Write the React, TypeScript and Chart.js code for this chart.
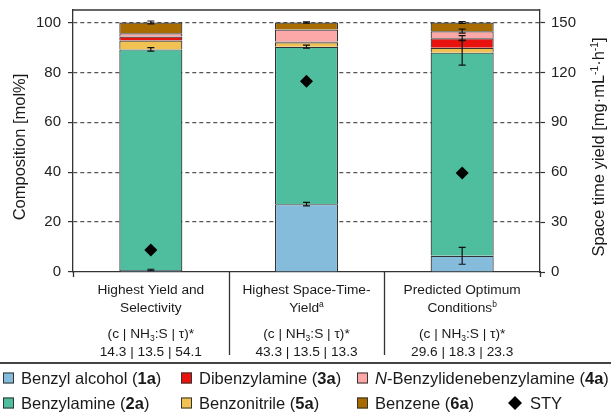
import { useEffect, useRef } from 'react';
import { Chart, registerables } from 'chart.js';

Chart.register(...registerables);

// ---------- data ----------
const categoryLines = [
  [[{ t: 'Highest Yield and' }], [{ t: 'Selectivity' }]],
  [[{ t: 'Highest Space-Time-' }], [{ t: 'Yield' }, { t: 'a', sup: true }]],
  [[{ t: 'Predicted Optimum' }], [{ t: 'Conditions' }, { t: 'b', sup: true }]],
];
const categories = ['Highest Yield and Selectivity', 'Highest Space-Time-Yield', 'Predicted Optimum Conditions'];
const conditions = ['14.3 | 13.5 | 54.1', '43.3 | 13.5 | 13.3', '29.6 | 18.3 | 23.3'];

const seriesNames = ['Benzyl alcohol', 'Benzylamine', 'Benzonitrile', 'Dibenzylamine', 'N-Benzylidenebenzylamine', 'Benzene'];
const seriesCodes = ['1a', '2a', '5a', '3a', '4a', '6a'];
const seriesColors = ['#85bcdb', '#4ebe9e', '#f1c152', '#e8130f', '#fca8a8', '#a86b00'];

const benzylAlcohol = [0.8, 27.2, 6.5];
const benzylamine = [88.4, 63.1, 81.4];
const benzonitrile = [3.6, 1.8, 2.0];
const dibenzylamine = [1.6, 0.3, 3.8];
const benzylidene = [1.3, 4.8, 2.8];
const benzene = [4.3, 2.8, 3.5];

const errBenzylAlcohol = [0.3, 0.7, 3.4];
const errBenzylamine = [0.7, 0.6, 5.0];
const errBenzonitrile = [0, 0, 0];
const errDibenzylamine = [0, 0, 1.0];
const errBenzylidene = [0, 0, 0.8];
const errBenzene = [0.6, 0.3, 0.4];

const sty = [13.2, 114.6, 59.5];

const leftTicksMax = 100;
const rightTicksMax = 150;

const seriesValues = [benzylAlcohol, benzylamine, benzonitrile, dibenzylamine, benzylidene, benzene];
const seriesErrors = [errBenzylAlcohol, errBenzylamine, errBenzonitrile, errDibenzylamine, errBenzylidene, errBenzene];

// ---------- text helpers ----------
type Run = { t: string; b?: boolean; i?: boolean; sup?: boolean; sub?: boolean };
const FAMILY = '"Liberation Sans", Arial, Helvetica, sans-serif';

function runFont(r: Run, size: number) {
  const s = r.sup || r.sub ? size * 0.62 : size;
  return `${r.i ? 'italic ' : ''}${r.b ? 'bold ' : ''}${s}px ${FAMILY}`;
}
function measureRuns(ctx: CanvasRenderingContext2D, runs: Run[], size: number) {
  let w = 0;
  for (const r of runs) {
    ctx.font = runFont(r, size);
    w += ctx.measureText(r.t).width;
  }
  return w;
}
function drawRuns(ctx: CanvasRenderingContext2D, runs: Run[], x: number, yMid: number, size: number, align: 'left' | 'center') {
  const w = measureRuns(ctx, runs, size);
  let cx = align === 'center' ? x - w / 2 : x;
  const base = yMid + size * 0.36;
  ctx.textAlign = 'left';
  ctx.textBaseline = 'alphabetic';
  for (const r of runs) {
    ctx.font = runFont(r, size);
    const dy = r.sup ? -size * 0.38 : r.sub ? size * 0.2 : 0;
    ctx.fillText(r.t, cx, base + dy);
    cx += ctx.measureText(r.t).width;
  }
}

const legendItems: { runs: Run[]; color: string | null; x: number; y: number }[] = [
  { runs: [{ t: 'Benzyl alcohol (' }, { t: '1a', b: true }, { t: ')' }], color: seriesColors[0], x: 3, y: 378 },
  { runs: [{ t: 'Dibenzylamine (' }, { t: '3a', b: true }, { t: ')' }], color: seriesColors[3], x: 181, y: 378 },
  { runs: [{ t: 'N', i: true }, { t: '-Benzylidenebenzylamine (' }, { t: '4a', b: true }, { t: ')' }], color: seriesColors[4], x: 357, y: 378 },
  { runs: [{ t: 'Benzylamine (' }, { t: '2a', b: true }, { t: ')' }], color: seriesColors[1], x: 3, y: 403 },
  { runs: [{ t: 'Benzonitrile (' }, { t: '5a', b: true }, { t: ')' }], color: seriesColors[2], x: 181, y: 403 },
  { runs: [{ t: 'Benzene (' }, { t: '6a', b: true }, { t: ')' }], color: seriesColors[5], x: 357, y: 403 },
  { runs: [{ t: 'STY' }], color: null, x: 508, y: 403 },
];

const errorBarPlugin = {
  id: 'errorBars',
  afterDatasetsDraw(chart: any) {
    const ctx: CanvasRenderingContext2D = chart.ctx;
    const xs = chart.scales.x;
    const ys = chart.scales.y;
    ctx.save();
    ctx.strokeStyle = '#111';
    ctx.lineWidth = 1.2;
    for (let i = 0; i < categories.length; i++) {
      let cum = 0;
      const px = xs.getPixelForValue(i);
      for (let s = 0; s < seriesValues.length; s++) {
        cum += seriesValues[s][i];
        const e = seriesErrors[s][i];
        if (!e) continue;
        const yTop = ys.getPixelForValue(cum + e);
        const yBot = ys.getPixelForValue(cum - e);
        ctx.beginPath();
        ctx.moveTo(px, yTop);
        ctx.lineTo(px, yBot);
        ctx.moveTo(px - 3.5, yTop);
        ctx.lineTo(px + 3.5, yTop);
        ctx.moveTo(px - 3.5, yBot);
        ctx.lineTo(px + 3.5, yBot);
        ctx.stroke();
      }
    }
    ctx.restore();
  },
};

const decorPlugin = {
  id: 'decor',
  afterDraw(chart: any) {
    const ctx: CanvasRenderingContext2D = chart.ctx;
    const area = chart.chartArea;
    const xs = chart.scales.x;
    ctx.save();
    // top frame
    ctx.strokeStyle = '#333';
    ctx.lineWidth = 1.3;
    ctx.beginPath();
    ctx.moveTo(area.left, area.top);
    ctx.lineTo(area.right, area.top);
    ctx.stroke();
    // category separators and edge ticks
    const step = (area.right - area.left) / categories.length;
    ctx.beginPath();
    for (let k = 0; k <= categories.length; k++) {
      const x = Math.round(area.left + step * k) + 0.5;
      const len = k === 0 || k === categories.length ? 5 : 83;
      ctx.moveTo(x, area.bottom);
      ctx.lineTo(x, area.bottom + len);
    }
    ctx.stroke();

    // category labels
    ctx.fillStyle = '#1a1a1a';
    const fs = 13.7;
    for (let i = 0; i < categories.length; i++) {
      const cx = xs.getPixelForValue(i);
      const lines = categoryLines[i] as Run[][];
      drawRuns(ctx, lines[0], cx, 289, fs, 'center');
      drawRuns(ctx, lines[1], cx, 307, fs, 'center');
      drawRuns(ctx, [{ t: '(c | NH' }, { t: '3', sub: true }, { t: ':S | τ)*' }], cx, 333, fs, 'center');
      drawRuns(ctx, [{ t: conditions[i] }], cx, 351, fs, 'center');
    }

    // legend separator
    ctx.strokeStyle = '#444';
    ctx.lineWidth = 2;
    ctx.beginPath();
    ctx.moveTo(0, 363);
    ctx.lineTo(chart.width, 363);
    ctx.stroke();

    // legend
    const lfs = 16.5;
    for (const it of legendItems) {
      if (it.color) {
        ctx.fillStyle = it.color;
        ctx.fillRect(it.x, it.y - 5.5, 11, 11);
        ctx.strokeStyle = '#333';
        ctx.lineWidth = 1;
        ctx.strokeRect(it.x + 0.5, it.y - 5.5 + 0.5, 10, 10);
        ctx.fillStyle = '#1a1a1a';
        drawRuns(ctx, it.runs, it.x + 18, it.y, lfs, 'left');
      } else {
        ctx.fillStyle = '#000';
        ctx.beginPath();
        ctx.moveTo(it.x + 7, it.y - 7);
        ctx.lineTo(it.x + 14, it.y);
        ctx.lineTo(it.x + 7, it.y + 7);
        ctx.lineTo(it.x, it.y);
        ctx.closePath();
        ctx.fill();
        ctx.fillStyle = '#1a1a1a';
        drawRuns(ctx, it.runs, it.x + 22, it.y, lfs, 'left');
      }
    }

    // axis titles
    const tfs = 16.5;
    ctx.fillStyle = '#1a1a1a';
    ctx.save();
    ctx.translate(19, 147);
    ctx.rotate(-Math.PI / 2);
    drawRuns(ctx, [{ t: 'Composition [mol%]' }], 0, 0, tfs, 'center');
    ctx.restore();
    ctx.save();
    ctx.translate(598, 147);
    ctx.rotate(-Math.PI / 2);
    drawRuns(
      ctx,
      [
        { t: 'Space time yield [mg·mL' },
        { t: '-1', sup: true },
        { t: '·h' },
        { t: '-1', sup: true },
        { t: ']' },
      ],
      0,
      0,
      tfs,
      'center'
    );
    ctx.restore();
    ctx.restore();
  },
};

export default function App() {
  const ref = useRef<HTMLCanvasElement | null>(null);
  useEffect(() => {
    document.body.style.margin = '0';
    const canvas = ref.current;
    if (!canvas) return;
    const tickFont = { size: 15, family: FAMILY };
    const barSets = seriesValues.map((vals, s) => ({
      type: 'bar' as const,
      label: `${seriesNames[s]} (${seriesCodes[s]})`,
      data: vals,
      backgroundColor: seriesColors[s],
      borderColor: '#333',
      borderWidth: 1.2,
      barPercentage: 0.405,
      categoryPercentage: 1,
      yAxisID: 'y',
      stack: 'comp',
      order: 1,
    }));
    const chart = new Chart(canvas, {
      type: 'bar',
      data: {
        labels: categories,
        datasets: [
          {
            type: 'line' as const,
            label: 'STY',
            data: sty,
            yAxisID: 'y2',
            showLine: false,
            pointStyle: 'rectRot',
            pointRadius: 6.5,
            pointBackgroundColor: '#000',
            pointBorderColor: '#000',
            pointBorderWidth: 0,
            order: 0,
          } as any,
          ...barSets,
        ],
      },
      options: {
        animation: false,
        responsive: false,
        devicePixelRatio: 1,
        layout: { padding: { top: 10, left: 0, right: 0, bottom: 0 } },
        plugins: { legend: { display: false }, tooltip: { enabled: false } },
        scales: {
          x: {
            stacked: true,
            offset: true,
            grid: { display: false },
            ticks: { display: false },
            border: { display: true, color: '#333', width: 1.3 },
            afterFit: (s: any) => {
              s.height = 145;
              s.paddingLeft = 0;
              s.paddingRight = 0;
            },
          },
          y: {
            position: 'left',
            stacked: true,
            min: 0,
            max: 105,
            afterBuildTicks: (s: any) => {
              s.ticks = s.ticks.filter((t: any) => t.value <= leftTicksMax);
            },
            ticks: { stepSize: 20, includeBounds: false, font: tickFont, color: '#222', padding: 7 },
            grid: {
              color: (c: any) => (c.tick && c.tick.value === 0 ? 'rgba(0,0,0,0)' : '#555'),
              lineWidth: 1.2,
              tickColor: '#333',
              tickLength: 5,
              tickWidth: 1.2,
            },
            border: { display: true, color: '#333', width: 1.3, dash: [4, 3] },
            afterFit: (s: any) => {
              s.width = 73;
              s.paddingTop = 0;
              s.paddingBottom = 0;
            },
          },
          y2: {
            position: 'right',
            stacked: false,
            min: 0,
            max: 157.5,
            afterBuildTicks: (s: any) => {
              s.ticks = s.ticks.filter((t: any) => t.value <= rightTicksMax);
            },
            ticks: { stepSize: 30, includeBounds: false, font: tickFont, color: '#222', padding: 6 },
            grid: { drawOnChartArea: false, tickColor: '#333', tickLength: 5, tickWidth: 1.2 },
            border: { display: true, color: '#333', width: 1.3 },
            afterFit: (s: any) => {
              s.width = 71;
              s.paddingTop = 0;
              s.paddingBottom = 0;
            },
          },
        },
      } as any,
      plugins: [errorBarPlugin, decorPlugin],
    });
    return () => chart.destroy();
  }, []);
  return <canvas ref={ref} width={611} height={417} style={{ display: 'block' }} />;
}
